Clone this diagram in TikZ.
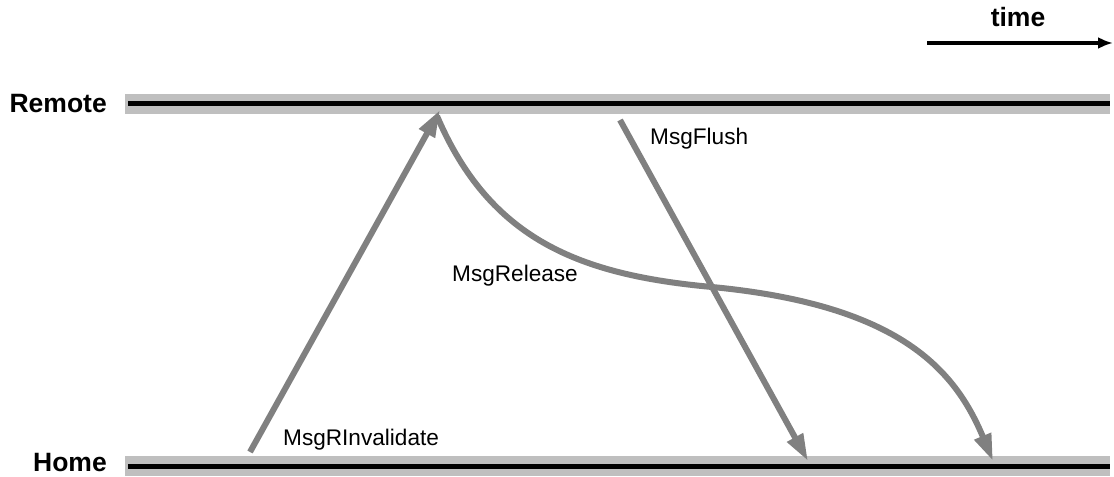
\documentclass[tikz,border=0pt]{standalone}
\usepackage{fontspec}
\setmainfont{Liberation Sans}
\usetikzlibrary{arrows.meta,calc,positioning}

\begin{document}
\begin{tikzpicture}[
  x=1bp,y=-1bp,
  >=Latex,
  band/.style={draw=black!25,line width=20bp},
  axis/.style={draw=black,line width=5bp},
  msg/.style={-{Triangle[length=27bp,width=17bp]},draw=black!50,line width=6bp},
  timearr/.style={-{Latex[length=15bp,width=12bp]},draw=black,line width=4bp},
  lanelab/.style={font=\fontsize{26.5bp}{31bp}\selectfont\bfseries,black,inner sep=0pt},
  msglab/.style={font=\fontsize{22.6bp}{27bp}\selectfont,black,inner sep=0pt}
]
\useasboundingbox (0,0) rectangle (1114,477);

% ---------------- geometry ----------------
\def\xLeft{125}
\def\xRight{1110}
\def\yRemote{104}
\def\yHome{466}

% ---------------- time lines ----------------
\coordinate (rL) at (\xLeft,\yRemote);
\coordinate (rR) at (\xRight,\yRemote);
\coordinate (hL) at (\xLeft,\yHome);
\coordinate (hR) at (\xRight,\yHome);

\draw[band] (rL) -- (rR);
\draw[axis] ($(rL)+(3,0)$) -- (rR);
\draw[band] (hL) -- (hR);
\draw[axis] ($(hL)+(3,0)$) -- (hR);

\node[lanelab,anchor=base east] (remote) at (107,113) {Remote};
\node[lanelab,anchor=base east] (home) at (107,471) {Home};

% ---------------- time direction ----------------
\coordinate (t0) at (927,43);
\coordinate (t1) at (1113,43);
\draw[timearr] (t0) -- (t1);
\node[lanelab,anchor=base] (time) at (1018,27) {time};

% ---------------- messages ----------------
\coordinate (invS) at (250,452);
\coordinate (invE) at (440,110);
\draw[msg] (invS) -- (invE);
\node[msglab,anchor=base west] (inv) at (283,445) {MsgRInvalidate};

\coordinate (relS) at (437,116);
\coordinate (relM) at (712,287);
\coordinate (relE) at (993,461);
\draw[msg] (relS) .. controls (490,240) and (580,275) .. (relM)
  .. controls (900,305) and (955,370) .. (relE);
\node[msglab,anchor=base west] (rel) at (452,282) {MsgRelease};

\coordinate (flS) at (620,120);
\coordinate (flE) at (808,461);
\draw[msg] (flS) -- (flE);
\node[msglab,anchor=base west] (flush) at (650,145) {MsgFlush};

\end{tikzpicture}
\end{document}
